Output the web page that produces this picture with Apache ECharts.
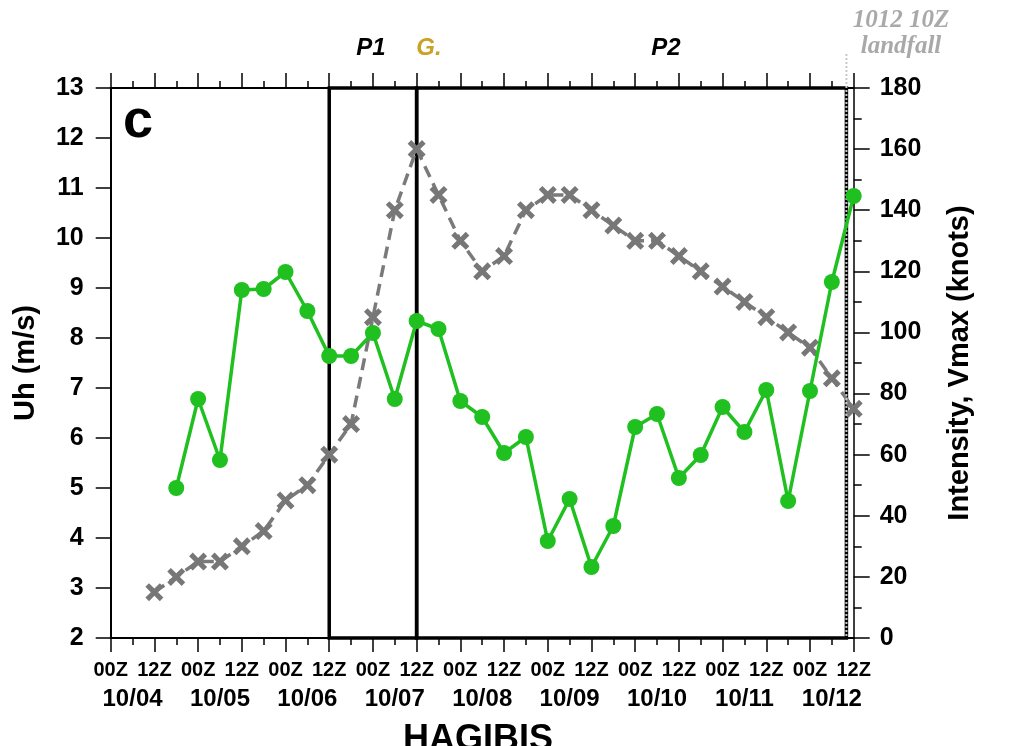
<!DOCTYPE html>
<html><head><meta charset="utf-8">
<script src="https://cdn.jsdelivr.net/npm/echarts@6/dist/echarts.min.js"></script>
<style>html,body{margin:0;padding:0;background:#fff}#c{width:1027px;height:746px}</style>
</head><body><div id="c"></div>
<script>
// hours since 10/04 00Z
const uhHours = [18,24,30,36,42,48,54,60,66,72,78,84,90,96,102,108,114,120,126,132,138,144,150,156,162,168,174,180,186,192,198,204];
const uhValues = [5.0,6.78,5.56,8.96,8.98,9.32,8.54,7.64,7.64,8.1,6.78,8.34,8.18,6.74,6.42,5.7,6.02,3.94,4.78,3.42,4.24,6.22,6.48,5.2,5.66,6.62,6.12,6.96,4.74,6.94,9.12,10.84];
const vmaxHours = [12,18,24,30,36,42,48,54,60,66,72,78,84,90,96,102,108,114,120,126,132,138,144,150,156,162,168,174,180,186,192,198,204];
const vmaxValues = [15,20,25,25,30,35,45,50,60,70,105,140,160,145,130,120,125,140,145,145,140,135,130,130,125,120,115,110,105,100,95,85,75];
const dateTicks = [6,30,54,78,102,126,150,174,198];
const dateLabels = ['10/04','10/05','10/06','10/07','10/08','10/09','10/10','10/11','10/12'];
const periods = [{name:'P1', start:60, end:84},{name:'P2', start:84, end:202}];
const landfallHour = 202;

const FONT = 'Liberation Sans, Arial, Helvetica, sans-serif';
const chart = echarts.init(document.getElementById('c'), null, {renderer:'canvas'});
const xSym = 'path://M0,2 L2,0 L5,3 L8,0 L10,2 L7,5 L10,8 L8,10 L5,7 L2,10 L0,8 L3,5 Z';

const option = {
  animation:false,
  backgroundColor:'#fff',
  grid:{left:110.7, right:173.3, top:88, bottom:108},
  xAxis:[
    {type:'value', position:'bottom', min:0, max:204, interval:12,
     axisLine:{onZero:false, lineStyle:{color:'#000', width:2}},
     axisTick:{show:true, inside:false, length:14, lineStyle:{color:'#000', width:1.5}},
     minorTick:{show:true, splitNumber:2, length:7, lineStyle:{color:'#000', width:1.5}},
     splitLine:{show:false},
     axisLabel:{margin:22, color:'#000', fontFamily:FONT, fontWeight:'bold', fontSize:20,
       formatter:v=> (v%24===0?'00Z':'12Z')}},
    {type:'value', position:'bottom', min:0, max:204,
     axisLine:{show:false, onZero:false}, axisTick:{show:false}, splitLine:{show:false},
     axisLabel:{customValues:dateTicks, margin:49, color:'#000', fontFamily:FONT, fontWeight:'bold', fontSize:24,
       formatter:v=> dateLabels[dateTicks.indexOf(v)] || ''}},
    {type:'value', position:'top', min:0, max:204, interval:12,
     axisLine:{onZero:false, lineStyle:{color:'#000', width:2}},
     axisTick:{show:true, inside:false, length:15, lineStyle:{color:'#000', width:1.5}},
     minorTick:{show:true, splitNumber:2, length:7, lineStyle:{color:'#000', width:1.5}},
     splitLine:{show:false}, axisLabel:{show:false}}
  ],
  yAxis:[
    {type:'value', position:'left', min:2, max:13, interval:1,
     name:'Uh (m/s)', nameLocation:'middle', nameGap:70, nameRotate:90,
     nameTextStyle:{color:'#000', fontFamily:FONT, fontWeight:'bold', fontSize:29},
     axisLine:{show:true, onZero:false, lineStyle:{color:'#000', width:2}},
     axisTick:{show:true, inside:false, length:15, lineStyle:{color:'#000', width:1.5}},
     splitLine:{show:false},
     axisLabel:{margin:27, color:'#000', fontFamily:FONT, fontWeight:'bold', fontSize:25}},
    {type:'value', position:'right', min:0, max:180, interval:20,
     name:'Intensity, Vmax (knots)', nameLocation:'middle', nameGap:92, nameRotate:90,
     nameTextStyle:{color:'#000', fontFamily:FONT, fontWeight:'bold', fontSize:29},
     axisLine:{show:true, onZero:false, lineStyle:{color:'#000', width:1.5}},
     axisTick:{show:true, inside:false, length:16, lineStyle:{color:'#000', width:1.5}},
     minorTick:{show:true, splitNumber:2, length:8, lineStyle:{color:'#000', width:1.5}},
     splitLine:{show:false},
     axisLabel:{margin:26, color:'#000', fontFamily:FONT, fontWeight:'bold', fontSize:25}}
  ],
  series:[
    {type:'line', name:'Vmax', xAxisIndex:0, yAxisIndex:1, z:3,
     data: vmaxHours.map((h,i)=>[h, vmaxValues[i]]),
     lineStyle:{color:'#7a7a7a', width:3.5, type:[12,7]},
     itemStyle:{color:'#777777'},
     symbol:xSym, symbolSize:18,
     markArea:{silent:true, label:{show:false},
       itemStyle:{color:'rgba(0,0,0,0)', borderColor:'#000', borderWidth:3.5},
       data: periods.map(p=>[{xAxis:p.start},{xAxis:p.end}])}},
    {type:'custom', name:'landfall', xAxisIndex:0, yAxisIndex:0, clip:false, silent:true, z:4,
     data:[[landfallHour, 2]],
     renderItem:(params, api)=>{
       const top = api.coord([api.value(0), 13]);
       const bot = api.coord([api.value(0), 2]);
       return {type:'group', children:[
         {type:'line', shape:{x1:top[0], y1:top[1]-34, x2:bot[0], y2:bot[1]},
          style:{stroke:'#c8c8c8', lineWidth:2, lineDash:[2,2]}}
       ]};
     }},
    {type:'line', name:'Uh', xAxisIndex:0, yAxisIndex:0, z:5,
     data: uhHours.map((h,i)=>[h, uhValues[i]]),
     lineStyle:{color:'#1fc01f', width:3.5},
     itemStyle:{color:'#1fc01f'},
     symbol:'circle', symbolSize:16}
  ],
  graphic:[
    {type:'text', left:123, top:95, style:{text:'c', fill:'#000', font:'bold 54px '+FONT}},
    {type:'text', x:371, y:48, style:{text:'P1', fill:'#000', font:'italic bold 24px '+FONT, align:'center', verticalAlign:'middle'}},
    {type:'text', x:429, y:48, style:{text:'G.', fill:'#c9a227', font:'italic bold 24px '+FONT, align:'center', verticalAlign:'middle'}},
    {type:'text', x:666, y:48, style:{text:'P2', fill:'#000', font:'italic bold 24px '+FONT, align:'center', verticalAlign:'middle'}},
    {type:'text', x:901, y:21, style:{text:'1012 10Z', fill:'#a9a9a9', font:'italic bold 25px Liberation Serif, DejaVu Serif, serif', align:'center', verticalAlign:'middle'}},
    {type:'text', x:901, y:47, style:{text:'landfall', fill:'#a9a9a9', font:'italic bold 25px Liberation Serif, DejaVu Serif, serif', align:'center', verticalAlign:'middle'}},
    {type:'text', x:478, y:740, style:{text:'HAGIBIS', fill:'#000', font:'bold 36px '+FONT, align:'center', verticalAlign:'middle'}}
  ]
};
chart.setOption(option);
</script></body></html>
